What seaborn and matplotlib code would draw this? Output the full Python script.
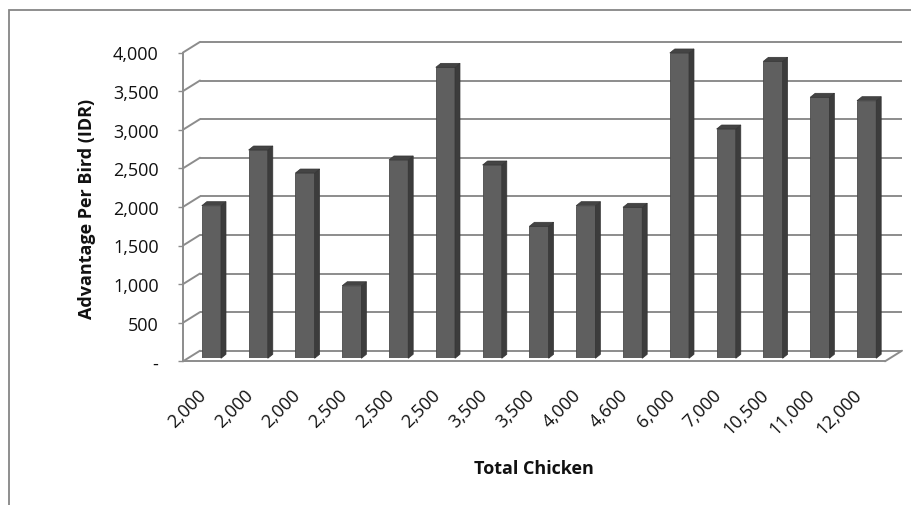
import numpy as np
import pandas as pd
import matplotlib
matplotlib.use("Agg")
import matplotlib.pyplot as plt
import seaborn as sns
from matplotlib.patches import Polygon, Rectangle
from matplotlib.lines import Line2D
from matplotlib.transforms import IdentityTransform, ScaledTranslation

# ---- data ----
total_chicken = ["2,000", "2,000", "2,000", "2,500", "2,500", "2,500", "3,500", "3,500",
                 "4,000", "4,600", "6,000", "7,000", "10,500", "11,000", "12,000"]
advantage = [1977, 2698, 2400, 940, 2569, 3769, 2504, 1710,
             1977, 1956, 3955, 2970, 3847, 3381, 3337]
y_ticks = [0, 500, 1000, 1500, 2000, 2500, 3000, 3500, 4000]
y_tick_labels = ["-", "500", "1,000", "1,500", "2,000", "2,500", "3,000", "3,500", "4,000"]

df = pd.DataFrame({"pos": np.arange(len(advantage)), "adv": advantage})

sns.set_theme(style="white")
plt.rcParams["font.family"] = ["Open Sans", "DejaVu Sans"]

W, H = 912, 506
fig = plt.figure(figsize=(W / 100, H / 100), dpi=100)


def rect(x0, yb, x1, yt):
    return [x0 / W, 1 - yb / H, (x1 - x0) / W, (yb - yt) / H]


GRID = "#8c8c8c"
TXT = "#111111"
XLIM = (-0.5, len(advantage) - 0.5)
YLIM = (0, 4000)

# back wall
ax_back = fig.add_axes(rect(200, 351.7, 902, 42.9))
ax_back.set_xlim(*XLIM)
ax_back.set_ylim(*YLIM)
ax_back.axis("off")
ax_back.hlines(y_ticks, XLIM[0], XLIM[1], color=GRID, lw=1.4, clip_on=False)

# bar plane
ax = fig.add_axes(rect(188, 359.3, 890, 50.5))
sns.barplot(data=df, x="pos", y="adv", color="#5f5f5f", saturation=1, width=0.41,
            edgecolor="#4a4a4a", linewidth=0.6, ax=ax)
ax.set_xlim(*XLIM)
ax.set_ylim(*YLIM)
ax.axis("off")
ax.patch.set_alpha(0)

d = np.array([5.0, 4.0])
for p in list(ax.patches):
    x0, w, h = p.get_x(), p.get_width(), p.get_height()
    A = ax.transData.transform((x0 + w, 0))
    B = ax.transData.transform((x0 + w, h))
    C = ax.transData.transform((x0, h))
    side = Polygon([A, B, B + d, A + d], closed=True, transform=IdentityTransform(),
                   facecolor="#3c3c3c", edgecolor="#353535", lw=0.5, clip_on=False)
    top = Polygon([C, B, B + d, C + d], closed=True, transform=IdentityTransform(),
                  facecolor="#444444", edgecolor="#353535", lw=0.5, clip_on=False)
    ax.add_artist(side)
    ax.add_artist(top)

# front plane (axes)
ax_f = fig.add_axes(rect(183, 362.3, 885, 53.5))
ax_f.set_xlim(*XLIM)
ax_f.set_ylim(*YLIM)
ax_f.patch.set_alpha(0)
for s in ["top", "right"]:
    ax_f.spines[s].set_visible(False)
for s in ["left", "bottom"]:
    ax_f.spines[s].set_color(GRID)
    ax_f.spines[s].set_linewidth(1.4)
ax_f.set_yticks(y_ticks)
ax_f.set_yticklabels(y_tick_labels)
ax_f.tick_params(axis="y", direction="out", length=3.6, width=1.0, color=GRID,
                 pad=14, labelsize=13, labelcolor=TXT, left=True)
ax_f.set_xticks(np.arange(len(total_chicken)))
ax_f.set_xticklabels(total_chicken, rotation=45, ha="right", va="center",
                     rotation_mode="anchor")
ax_f.tick_params(axis="x", length=0, pad=22, labelsize=13, labelcolor=TXT)
shift = ScaledTranslation(-2.5 / 100, 0, fig.dpi_scale_trans)
for lab in ax_f.get_xticklabels():
    lab.set_transform(lab.get_transform() + shift)

# side-wall connectors and floor edge
for v in y_ticks:
    P = ax_f.transData.transform((XLIM[0], v))
    Q = ax_back.transData.transform((XLIM[0], v))
    fig.add_artist(Line2D([P[0], Q[0]], [P[1], Q[1]], transform=IdentityTransform(),
                          color=GRID, lw=1.4))
P = ax_f.transData.transform((XLIM[1], 0))
Q = ax_back.transData.transform((XLIM[1], 0))
fig.add_artist(Line2D([P[0], Q[0]], [P[1], Q[1]], transform=IdentityTransform(),
                      color=GRID, lw=1.4))

# axis titles
fig.text(87 / W, 1 - 209 / H, "Advantage Per Bird (IDR)", rotation=90, ha="center",
         va="center", fontsize=13, fontweight="bold", color=TXT)
fig.text(533.5 / W, 1 - 469 / H, "Total Chicken", ha="center", va="center",
         fontsize=13, fontweight="bold", color=TXT)

# chart border (cropped at right/bottom)
fig.add_artist(Rectangle((9 / W, -0.2), 1.2, 1 - 11 / H + 0.2, transform=fig.transFigure,
                         fill=False, edgecolor="#868686", lw=1.3, clip_on=False))

fig.savefig("out.png", dpi=100)
